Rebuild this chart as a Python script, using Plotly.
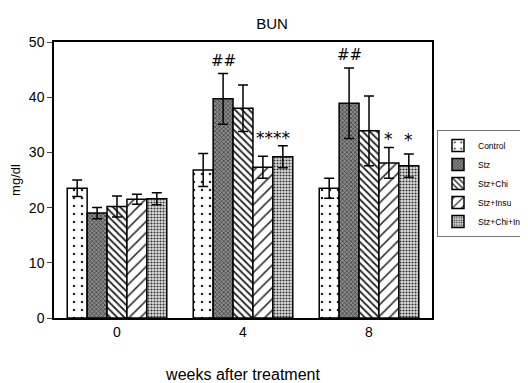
import plotly.graph_objects as go

weeks = ["0", "4", "8"]
groups = ["Control", "Stz", "Stz+Chi", "Stz+Insu", "Stz+Chi+Insu"]
means = {
    "Control":      [23.5, 26.8, 23.5],
    "Stz":          [19.0, 39.7, 38.9],
    "Stz+Chi":      [20.2, 38.0, 33.9],
    "Stz+Insu":     [21.5, 27.3, 28.1],
    "Stz+Chi+Insu": [21.6, 29.2, 27.6],
}
errs = {
    "Control":      [1.5, 3.0, 1.8],
    "Stz":          [1.0, 4.6, 6.4],
    "Stz+Chi":      [1.9, 4.2, 6.3],
    "Stz+Insu":     [0.9, 2.0, 2.8],
    "Stz+Chi+Insu": [1.1, 2.0, 2.1],
}
# significance marks: (week index, group index, label, y)
marks = [(1, 1, "##", 46.6), (2, 1, "##", 47.6),
         (1, 3.5, "****", 32.6), (2, 3, "*", 32.4), (2, 4, "*", 32.2)]

styles = {
    "Control":      dict(shape=".", fg="#222222", bg="white", size=8, sol=0.08),
    "Stz":          dict(shape="x", fg="#3a3a3a", bg="#8a8a8a", size=3, sol=0.4),
    "Stz+Chi":      dict(shape="\\", fg="#222222", bg="white", size=5, sol=0.35),
    "Stz+Insu":     dict(shape="/", fg="#333333", bg="white", size=8, sol=0.2),
    "Stz+Chi+Insu": dict(shape=".", fg="#333333", bg="#e0e0e0", size=3, sol=0.4),
}

bargap = 0.21
n = len(groups)
bw = (1 - bargap) / n
xs = list(range(len(weeks)))

fig = go.Figure()
for i, g in enumerate(groups):
    s = styles[g]
    fig.add_trace(go.Bar(
        name=g, x=xs, y=means[g],
        marker=dict(color=s["bg"], line=dict(color="black", width=1.5),
                    pattern=dict(shape=s["shape"], fgcolor=s["fg"], bgcolor=s["bg"],
                                 size=s["size"], solidity=s["sol"], fillmode="replace")),
        error_y=dict(type="data", array=errs[g], color="black", thickness=1.5, width=5),
    ))

annotations = []
for wi, gi, txt, yv in marks:
    annotations.append(dict(x=wi + (gi - (n - 1) / 2) * bw, y=yv, text=txt,
                            showarrow=False, xref="x", yref="y",
                            font=dict(size=17 if "*" in txt else 15, color="black",
                                      family="DejaVu Sans")))

# the page adds an 8px body margin; figure is sized so it ends at the window edge
fig.update_layout(
    width=520, height=375,
    margin=dict(l=46, r=96, t=34, b=65),
    paper_bgcolor="white", plot_bgcolor="white",
    barmode="group", bargap=bargap, bargroupgap=0,
    title=dict(text="BUN", x=264 / 520, xanchor="center", y=1 - 16 / 375, yanchor="middle",
               font=dict(size=15, color="black", family="Liberation Sans")),
    font=dict(family="Liberation Sans", color="black"),
    showlegend=True,
    legend=dict(xref="container", yref="container", x=429 / 520, y=1 - 122 / 375,
                xanchor="left", yanchor="top",
                bordercolor="#777777", borderwidth=1,
                font=dict(size=8.5, family="Liberation Sans Narrow, Liberation Sans"),
                tracegroupgap=0, itemwidth=30),
    annotations=annotations,
)
fig.update_xaxes(
    tickvals=xs, ticktext=weeks, range=[-0.5, 2.5], automargin=False,
    showline=True, linecolor="black", linewidth=1.5, mirror=True,
    ticks="", tickfont=dict(size=14),
    title=dict(text="weeks after treatment", font=dict(size=16), standoff=31),
)
fig.update_yaxes(
    range=[0, 50], dtick=10, automargin=False,
    showline=True, linecolor="black", linewidth=1.5, mirror=True,
    ticks="outside", ticklen=5, tickfont=dict(size=14), showgrid=False,
    title=dict(text="mg/dl", font=dict(size=13), standoff=7),
    zeroline=False,
)
fig.write_html("out.html")
